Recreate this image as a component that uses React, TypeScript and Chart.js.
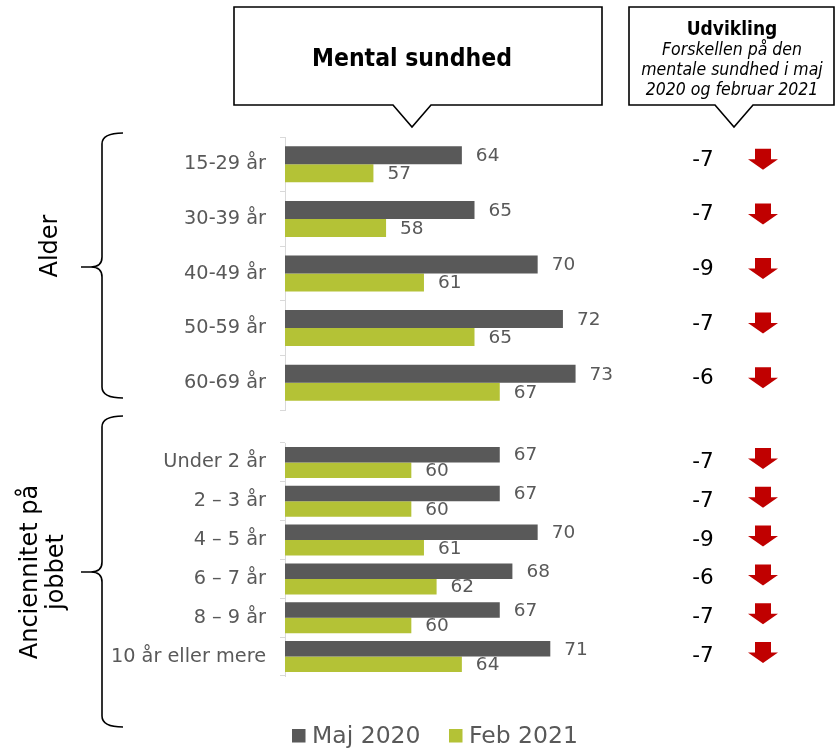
import React, { useEffect, useRef } from 'react';
import { Chart, registerables } from 'chart.js';

Chart.register(...registerables);

const FONT = "'DejaVu Sans', Verdana, sans-serif";
const FONT_COND = "'DejaVu Sans Condensed', 'DejaVu Sans', sans-serif";

// ---- data ----
const seriesNames = ['Maj 2020', 'Feb 2021'];

const ageLabels = ['15-29 år', '30-39 år', '40-49 år', '50-59 år', '60-69 år'];
const ageMaj2020 = [64, 65, 70, 72, 73];
const ageFeb2021 = [57, 58, 61, 65, 67];
const ageChange = [-7, -7, -9, -7, -6];

const tenureLabels = ['Under 2 år', '2 – 3 år', '4 – 5 år', '6 – 7 år', '8 – 9 år', '10 år eller mere'];
const tenureMaj2020 = [67, 67, 70, 68, 67, 71];
const tenureFeb2021 = [60, 60, 61, 62, 60, 64];
const tenureChange = [-7, -7, -9, -6, -7, -7];

const AXIS_MIN = 50;
const AXIS_MAX = 80;

// ---- styles ----
const DARK = '#595959';
const GREEN = '#b4c236';
const RED = '#c00000';
const TEXT_GRAY = '#595959';

type PanelProps = {
  labels: string[];
  maj: number[];
  feb: number[];
  change: number[];
  top: number;
  height: number;
  padTop: number;
  padBottom: number;
  catPct: number;
  deltaShift: number;
  arrowShift: number;
};

function Panel(p: PanelProps) {
  const ref = useRef<HTMLCanvasElement>(null);
  useEffect(() => {
    const canvas = ref.current!;
    const annot = {
      id: 'annot',
      afterDatasetsDraw(chart: any) {
        const ctx = chart.ctx as CanvasRenderingContext2D;
        ctx.save();
        ctx.font = `18.5px ${FONT}`;
        ctx.fillStyle = TEXT_GRAY;
        ctx.textAlign = 'left';
        ctx.textBaseline = 'middle';
        chart.data.datasets.forEach((ds: any, i: number) => {
          chart.getDatasetMeta(i).data.forEach((bar: any, j: number) => {
            ctx.fillText(String(ds.data[j]), bar.x + 14, bar.y + 1);
          });
        });
        const ys = chart.scales.y;
        p.change.forEach((v, j) => {
          const cy = ys.getPixelForValue(j);
          ctx.font = `21.5px ${FONT}`;
          ctx.fillStyle = '#000';
          ctx.textAlign = 'center';
          ctx.fillText(String(v), 703, cy + p.deltaShift);
          const ax = 763;
          const ay = cy + p.arrowShift;
          ctx.fillStyle = RED;
          ctx.beginPath();
          ctx.moveTo(ax - 8, ay - 10.5);
          ctx.lineTo(ax + 8, ay - 10.5);
          ctx.lineTo(ax + 8, ay);
          ctx.lineTo(ax + 15, ay);
          ctx.lineTo(ax, ay + 10.5);
          ctx.lineTo(ax - 15, ay);
          ctx.lineTo(ax - 8, ay);
          ctx.closePath();
          ctx.fill();
        });
        ctx.restore();
      },
    };
    const chart = new Chart(canvas, {
      type: 'bar',
      data: {
        labels: p.labels,
        datasets: [
          { label: seriesNames[0], data: p.maj, backgroundColor: DARK, categoryPercentage: p.catPct, barPercentage: 1 },
          { label: seriesNames[1], data: p.feb, backgroundColor: GREEN, categoryPercentage: p.catPct, barPercentage: 1 },
        ],
      },
      options: {
        indexAxis: 'y',
        responsive: false,
        animation: false,
        devicePixelRatio: 1,
        layout: { padding: { top: p.padTop, bottom: p.padBottom, left: 0, right: 836 - 664 } },
        plugins: { legend: { display: false }, tooltip: { enabled: false } },
        scales: {
          x: { display: false, min: AXIS_MIN, max: AXIS_MAX },
          y: {
            afterFit: (s: any) => {
              s.width = 285;
              s.paddingTop = 0;
              s.paddingBottom = 0;
            },
            grid: { drawOnChartArea: false, drawTicks: true, tickLength: 5, color: '#d9d9d9', offset: true },
            border: { display: true, color: '#d9d9d9' },
            ticks: { color: TEXT_GRAY, font: { size: 19.3, family: FONT }, padding: 14, autoSkip: false },
          },
        },
      } as any,
      plugins: [annot],
    });
    return () => chart.destroy();
  }, []);
  return (
    <canvas
      ref={ref}
      width={836}
      height={p.height}
      style={{ position: 'absolute', left: 0, top: p.top, width: 836, height: p.height, display: 'block' }}
    />
  );
}

function brace(x: number, top: number, bottom: number, tipY: number) {
  const hook = 123;
  const tipX = 81;
  return `M${hook},${top} Q${x},${top} ${x},${top + 11} V${tipY - 10} Q${x},${tipY} ${x - 11},${tipY} L${tipX},${tipY} L${x - 11},${tipY} Q${x},${tipY} ${x},${tipY + 10} V${bottom - 11} Q${x},${bottom} ${hook},${bottom}`;
}

export default function App() {
  return (
    <div
      style={{
        position: 'absolute',
        left: 0,
        top: 0,
        width: 836,
        height: 748,
        background: '#fff',
        overflow: 'hidden',
        fontFamily: FONT,
      }}
    >
      <Panel
        labels={ageLabels}
        maj={ageMaj2020}
        feb={ageFeb2021}
        change={ageChange}
        top={130}
        height={290}
        padTop={7}
        padBottom={10}
        catPct={0.66}
        deltaShift={-4}
        arrowShift={-5}
      />
      <Panel
        labels={tenureLabels}
        maj={tenureMaj2020}
        feb={tenureFeb2021}
        change={tenureChange}
        top={430}
        height={260}
        padTop={13}
        padBottom={14}
        catPct={0.8}
        deltaShift={0}
        arrowShift={-4}
      />
      <svg
        width={836}
        height={748}
        style={{ position: 'absolute', left: 0, top: 0, pointerEvents: 'none' }}
      >
        {/* callout: Mental sundhed */}
        <path
          d="M234,7 H602 V105 H431 L412,127 L393,105 H234 Z"
          fill="#fff"
          stroke="#000"
          strokeWidth={1.6}
        />
        <text x={412} y={66} textAnchor="middle" fontFamily={FONT_COND} fontWeight="bold" fontSize={24.5} fill="#000">
          Mental sundhed
        </text>
        {/* callout: Udvikling */}
        <path
          d="M629,7 H834 V105 H753 L734,127 L715,105 H629 Z"
          fill="#fff"
          stroke="#000"
          strokeWidth={1.6}
        />
        <text x={732} y={35} textAnchor="middle" fontFamily={FONT_COND} fontWeight="bold" fontSize={19} fill="#000">
          Udvikling
        </text>
        <text x={732} y={55} textAnchor="middle" fontFamily={FONT_COND} fontStyle="italic" fontSize={17.5} fill="#000">
          Forskellen på den
        </text>
        <text x={732} y={75} textAnchor="middle" fontFamily={FONT_COND} fontStyle="italic" fontSize={17.5} fill="#000">
          mentale sundhed i maj
        </text>
        <text x={732} y={95} textAnchor="middle" fontFamily={FONT_COND} fontStyle="italic" fontSize={17.5} fill="#000">
          2020 og februar 2021
        </text>

        {/* braces */}
        <path d={brace(102, 133, 398, 267)} fill="none" stroke="#000" strokeWidth={1.6} />
        <path d={brace(102, 416, 727, 572)} fill="none" stroke="#000" strokeWidth={1.6} />
        <text
          transform="translate(57,246) rotate(-90)"
          textAnchor="middle"
          fontFamily={FONT}
          fontSize={24}
          fill="#000"
        >
          Alder
        </text>
        <text
          transform="translate(37,572) rotate(-90)"
          textAnchor="middle"
          fontFamily={FONT}
          fontSize={24}
          fill="#000"
        >
          Anciennitet på
        </text>
        <text
          transform="translate(63,572) rotate(-90)"
          textAnchor="middle"
          fontFamily={FONT}
          fontSize={24}
          fill="#000"
        >
          jobbet
        </text>

        {/* legend */}
        <rect x={292} y={729} width={13.5} height={13.5} fill={DARK} />
        <text x={312} y={743} fontFamily={FONT} fontSize={23.5} fill={TEXT_GRAY}>
          {seriesNames[0]}
        </text>
        <rect x={449} y={729} width={13.5} height={13.5} fill={GREEN} />
        <text x={469} y={743} fontFamily={FONT} fontSize={23.5} fill={TEXT_GRAY}>
          {seriesNames[1]}
        </text>
      </svg>
    </div>
  );
}
